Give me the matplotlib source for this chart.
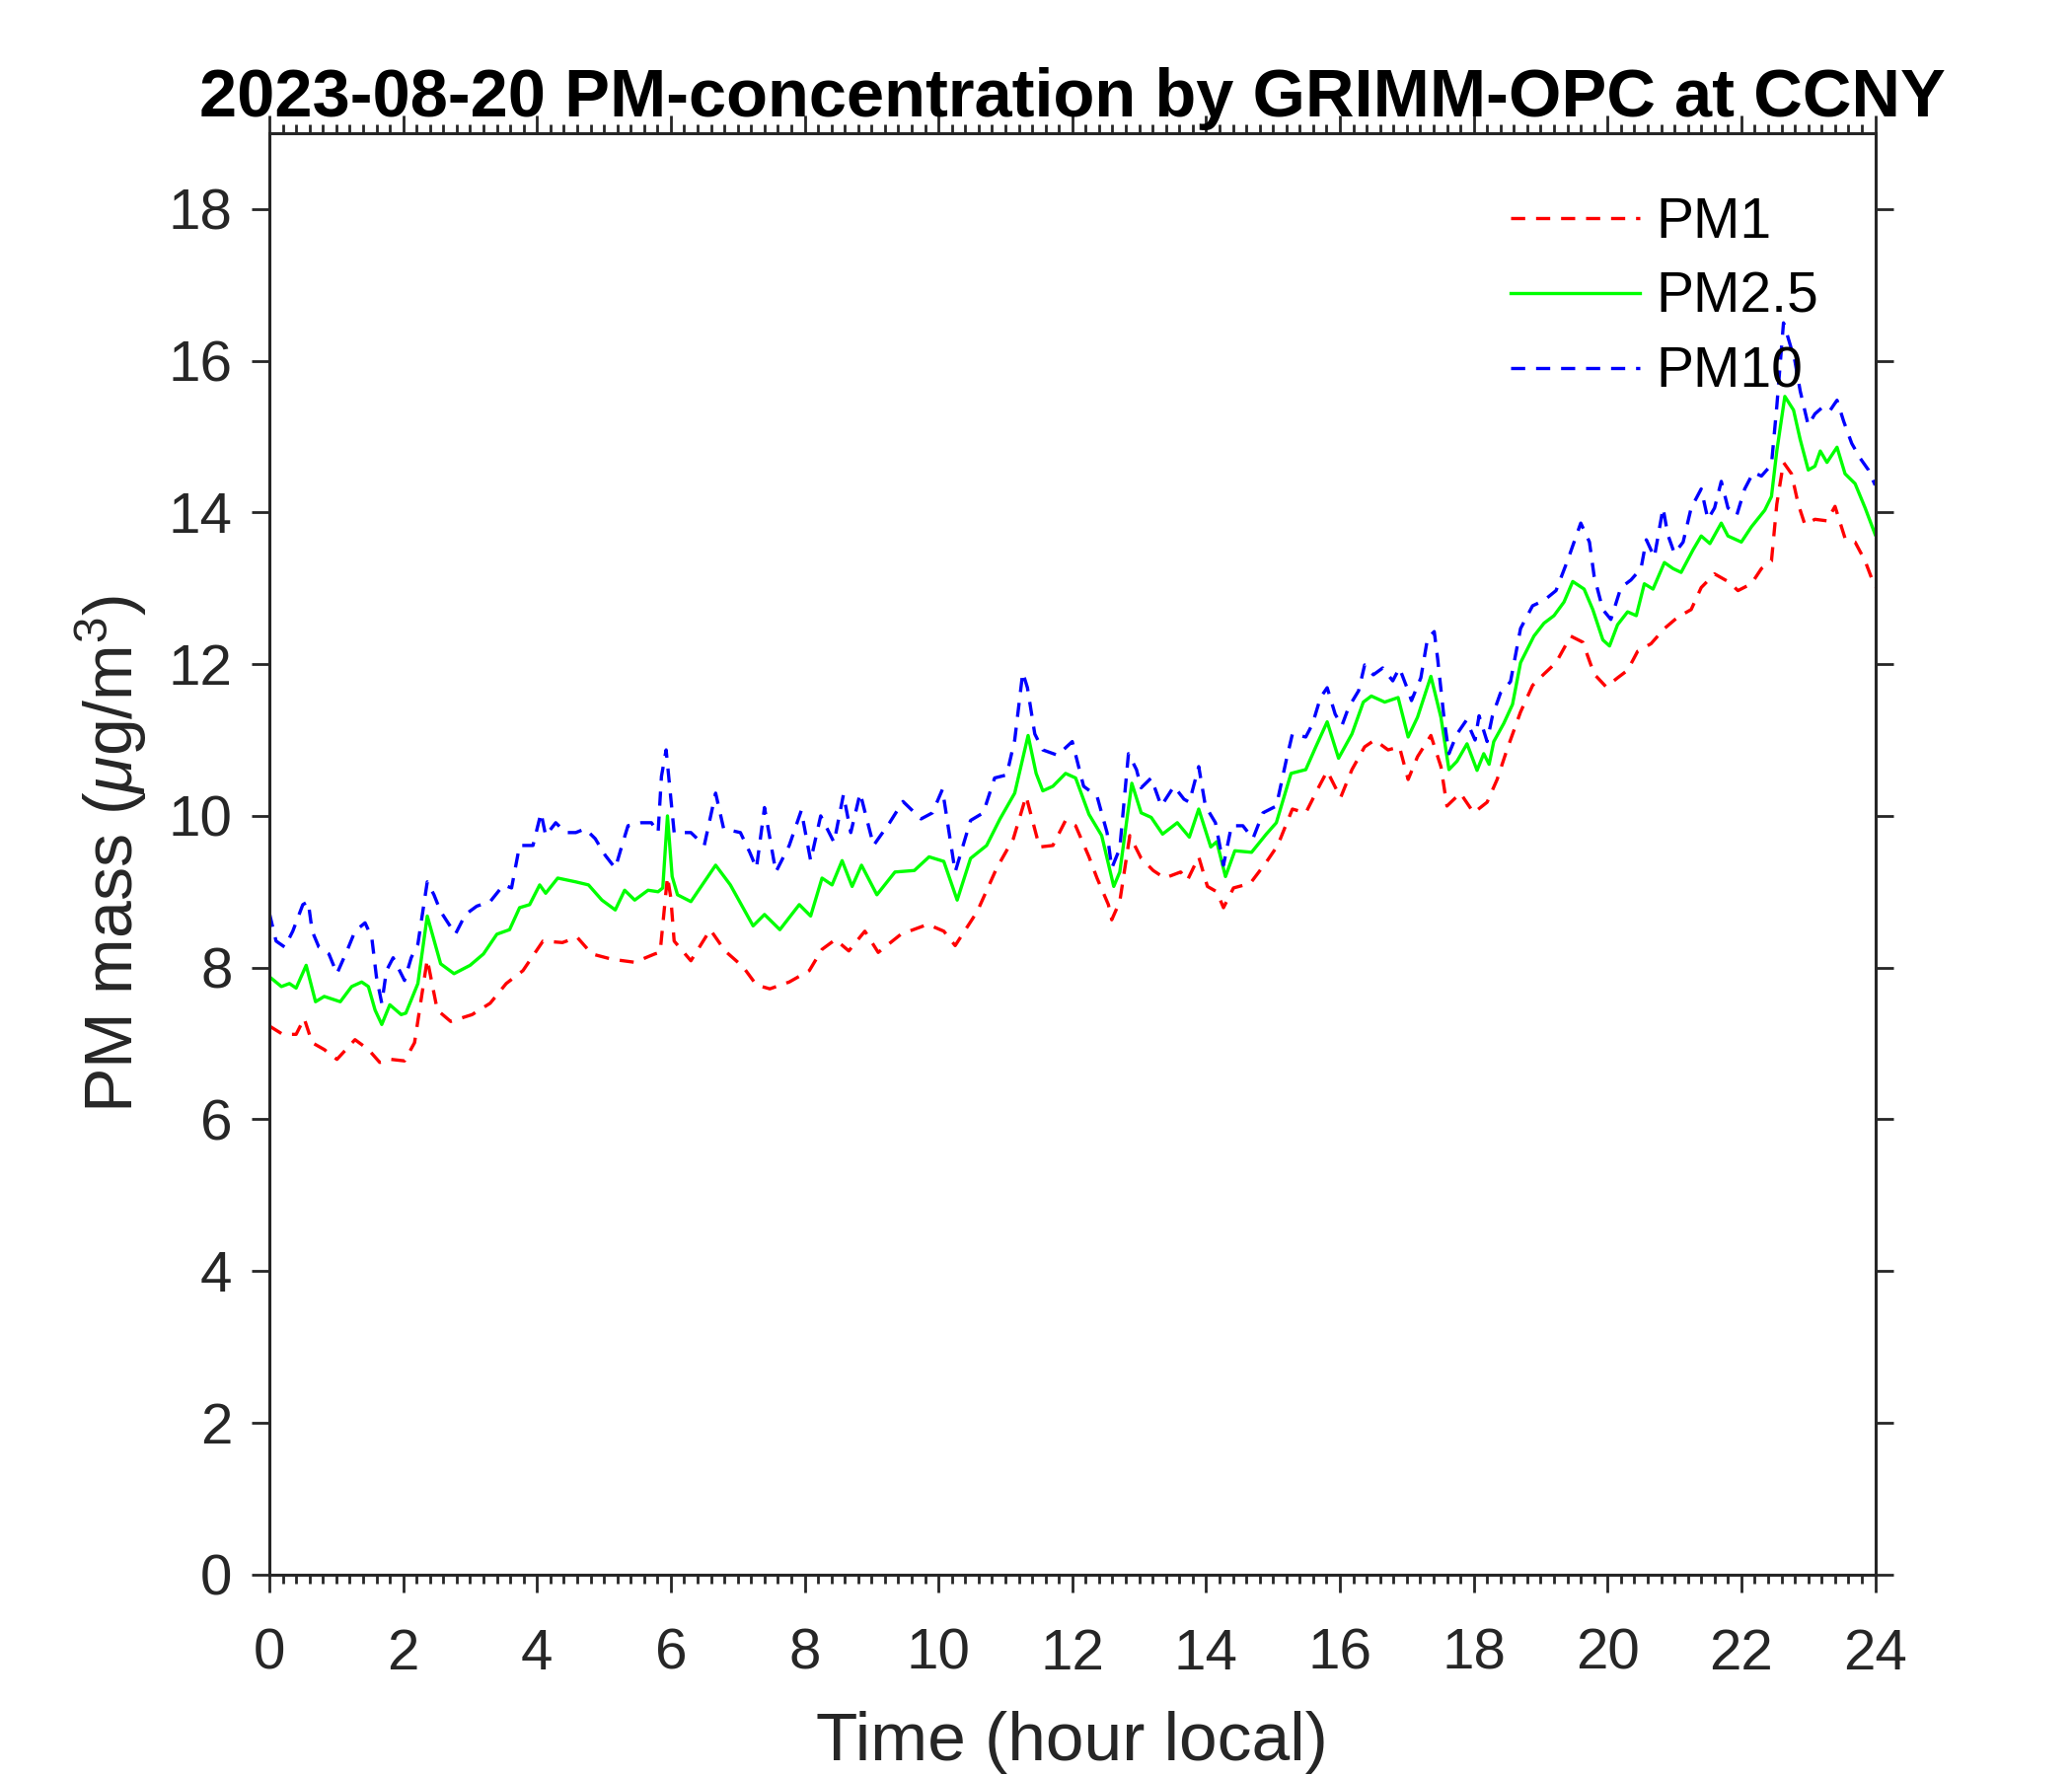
import matplotlib
matplotlib.use('Agg')
import matplotlib.pyplot as plt
from matplotlib.ticker import MultipleLocator

plt.rcParams['font.family'] = ['Liberation Sans', 'DejaVu Sans']
plt.rcParams['mathtext.fontset'] = 'custom'
plt.rcParams['mathtext.rm'] = 'Liberation Sans'
plt.rcParams['mathtext.it'] = 'Liberation Sans:italic'

# PM1
t_pm1 = [0.0, 0.2, 0.4, 0.52, 0.64, 0.82, 1.01, 1.28, 1.48, 1.65, 1.82, 2.02, 2.17, 2.36, 2.51,
         2.71, 3.03, 3.30, 3.54, 3.79, 4.09, 4.38, 4.60, 4.82, 5.12, 5.46, 5.76, 5.84, 5.95, 6.0,
         6.05, 6.30, 6.59, 6.81, 7.08, 7.28, 7.48, 7.77, 8.07, 8.26, 8.46, 8.66, 8.90, 9.10, 9.44,
         9.84, 10.08, 10.25, 10.58, 10.87, 11.12, 11.31, 11.51, 11.71, 11.90, 12.05, 12.25, 12.37,
         12.54, 12.59, 12.71, 12.86, 13.03, 13.21, 13.38, 13.62, 13.72, 13.89, 14.02, 14.16, 14.26,
         14.41, 14.66, 14.90, 15.07, 15.29, 15.49, 15.69, 15.81, 16.01, 16.18, 16.37, 16.52, 16.72,
         16.89, 17.02, 17.16, 17.36, 17.51, 17.60, 17.80, 18.00, 18.20, 18.35, 18.5, 18.70, 18.88,
         19.05, 19.23, 19.45, 19.63, 19.80, 19.98, 20.15, 20.30, 20.45, 20.65, 20.85, 21.05, 21.25,
         21.40, 21.60, 21.80, 21.95, 22.15, 22.30, 22.45, 22.53, 22.63, 22.75, 22.85, 22.95, 23.10,
         23.28, 23.40, 23.55, 23.70, 23.85, 24.0]
pm1 = [7.23, 7.12, 7.12, 7.33, 7.01, 6.92, 6.79, 7.05, 6.92, 6.75, 6.79, 6.77, 7.01, 8.11, 7.44,
       7.29, 7.38, 7.53, 7.79, 7.96, 8.35, 8.33, 8.40, 8.18, 8.11, 8.07, 8.18, 8.20, 9.20, 8.92,
       8.35, 8.09, 8.50, 8.22, 8.01, 7.77, 7.72, 7.81, 7.96, 8.24, 8.37, 8.22, 8.48, 8.20, 8.44,
       8.57, 8.48, 8.29, 8.74, 9.31, 9.70, 10.26, 9.59, 9.61, 9.94, 9.87, 9.46, 9.18,
       8.83, 8.63, 8.87, 9.74, 9.44, 9.28, 9.18, 9.26, 9.15, 9.46, 9.07, 9.00, 8.79,
       9.05, 9.11, 9.39, 9.61, 10.09, 10.04, 10.39, 10.59, 10.24, 10.61, 10.91, 11.00, 10.87,
       10.91, 10.48, 10.78, 11.06, 10.65, 10.13, 10.30, 10.04, 10.18, 10.48, 10.88, 11.37, 11.72,
       11.87, 12.02, 12.37, 12.29, 11.87, 11.70, 11.82, 11.92, 12.17, 12.27, 12.47, 12.62, 12.72,
       13.01, 13.19, 13.09, 12.97, 13.06, 13.26, 13.36, 14.11, 14.66, 14.51, 14.11, 13.84, 13.91,
       13.89, 14.08, 13.66, 13.61, 13.36, 13.01]

# PM2.5
t_pm25 = [0.0, 0.18, 0.30, 0.40, 0.55, 0.69, 0.82, 1.06, 1.23, 1.38, 1.48, 1.58, 1.68, 1.80, 1.97,
          2.04, 2.22, 2.36, 2.56, 2.76, 3.00, 3.20, 3.40, 3.59, 3.74, 3.89, 4.04, 4.13, 4.31, 4.58,
          4.77, 4.97, 5.17, 5.31, 5.46, 5.66, 5.81, 5.88, 5.95, 6.02, 6.10, 6.30, 6.67, 6.89, 7.23,
          7.40, 7.63, 7.92, 8.09, 8.26, 8.41, 8.56, 8.71, 8.85, 9.08, 9.35, 9.64, 9.86, 10.08, 10.28,
          10.48, 10.72, 10.92, 11.14, 11.34, 11.46, 11.56, 11.71, 11.90, 12.05, 12.25, 12.44, 12.62,
          12.71, 12.89, 13.03, 13.18, 13.35, 13.57, 13.75, 13.89, 14.07, 14.16, 14.29, 14.43, 14.68,
          14.90, 15.05, 15.27, 15.49, 15.64, 15.81, 15.98, 16.18, 16.35, 16.47, 16.67, 16.87, 17.02,
          17.16, 17.36, 17.51, 17.63, 17.75, 17.90, 18.05, 18.15, 18.23, 18.30, 18.45, 18.58, 18.70,
          18.90, 19.05, 19.20, 19.35, 19.48, 19.65, 19.78, 19.93, 20.03, 20.15, 20.30, 20.43, 20.55,
          20.68, 20.85, 20.98, 21.10, 21.28, 21.40, 21.53, 21.70, 21.80, 22.00, 22.15, 22.35, 22.45,
          22.53, 22.65, 22.78, 22.88, 23.00, 23.10, 23.18, 23.28, 23.43, 23.55, 23.70, 23.85, 24.0]
pm25 = [7.88, 7.75, 7.79, 7.73, 8.03, 7.55, 7.62, 7.55, 7.75, 7.81, 7.75, 7.44, 7.25, 7.51, 7.38,
        7.40, 7.79, 8.68, 8.05, 7.92, 8.03, 8.18, 8.44, 8.50, 8.79, 8.83, 9.09, 8.98, 9.18, 9.13,
        9.09, 8.89, 8.76, 9.02, 8.89, 9.02, 9.00, 9.05, 10.0, 9.20, 8.96, 8.87, 9.35, 9.09, 8.55,
        8.70, 8.50, 8.83, 8.68, 9.18, 9.09, 9.41, 9.07, 9.35, 8.96, 9.26, 9.28, 9.46, 9.40, 8.89,
        9.44, 9.61, 9.96, 10.30, 11.06, 10.56, 10.33, 10.39, 10.56, 10.50, 10.02, 9.74, 9.07,
        9.26, 10.43, 10.04, 9.98, 9.76, 9.91, 9.72, 10.09, 9.59, 9.66, 9.20, 9.54, 9.52,
        9.76, 9.91, 10.56, 10.61, 10.91, 11.24, 10.76, 11.08, 11.50, 11.58, 11.50, 11.56, 11.04,
        11.30, 11.84, 11.30, 10.61, 10.72, 10.95, 10.60, 10.82, 10.68, 10.98, 11.22, 11.47, 12.02,
        12.37, 12.54, 12.64, 12.82, 13.09, 12.99, 12.72, 12.32, 12.24, 12.52, 12.69, 12.64, 13.06,
        12.99, 13.34, 13.26, 13.21, 13.51, 13.69, 13.59, 13.86, 13.69, 13.61, 13.81, 14.03, 14.21,
        14.81, 15.53, 15.35, 14.96, 14.56, 14.61, 14.81, 14.66, 14.86, 14.51, 14.38, 14.06, 13.71]

# PM10
t_pm10 = [0.0, 0.10, 0.23, 0.35, 0.50, 0.58, 0.64, 0.74, 0.89, 1.01, 1.16, 1.28, 1.43, 1.53, 1.60,
          1.68, 1.75, 1.85, 2.02, 2.12, 2.22, 2.36, 2.46, 2.56, 2.78, 2.93, 3.10, 3.30, 3.50, 3.62,
          3.74, 3.94, 4.06, 4.13, 4.28, 4.43, 4.58, 4.72, 4.87, 5.02, 5.17, 5.27, 5.36, 5.56, 5.71,
          5.81, 5.86, 5.93, 6.05, 6.30, 6.50, 6.67, 6.79, 7.04, 7.18, 7.28, 7.40, 7.57, 7.77, 7.95,
          8.09, 8.24, 8.44, 8.58, 8.69, 8.83, 9.03, 9.27, 9.47, 9.74, 9.91, 10.06, 10.25, 10.48,
          10.67, 10.84, 11.02, 11.14, 11.26, 11.33, 11.44, 11.56, 11.78, 12.0, 12.17, 12.37, 12.52,
          12.59, 12.71, 12.84, 12.96, 13.03, 13.18, 13.33, 13.52, 13.67, 13.75, 13.89, 13.99, 14.14,
          14.26, 14.38, 14.55, 14.70, 14.85, 15.05, 15.20, 15.29, 15.49, 15.59, 15.71, 15.81, 15.93,
          16.03, 16.13, 16.28, 16.37, 16.50, 16.64, 16.79, 16.89, 17.02, 17.07, 17.21, 17.31, 17.41,
          17.46, 17.56, 17.63, 17.75, 17.89, 18.02, 18.08, 18.2, 18.28, 18.4, 18.55, 18.70, 18.88,
          19.05, 19.23, 19.40, 19.60, 19.73, 19.80, 19.93, 20.05, 20.20, 20.35, 20.5, 20.58, 20.70,
          20.83, 20.90, 21.0, 21.13, 21.25, 21.40, 21.50, 21.60, 21.70, 21.80, 21.93, 22.05, 22.18,
          22.30, 22.45, 22.53, 22.63, 22.70, 22.80, 22.88, 23.0, 23.10, 23.23, 23.33, 23.43, 23.53,
          23.65, 23.78, 23.90, 24.0]
pm10 = [8.72, 8.35, 8.27, 8.48, 8.83, 8.87, 8.48, 8.27, 8.18, 7.92, 8.22, 8.48, 8.59, 8.40, 7.88,
        7.53, 7.96, 8.13, 7.83, 8.13, 8.31, 9.13, 8.96, 8.74, 8.44, 8.70, 8.81, 8.87, 9.09, 9.05,
        9.61, 9.61, 10.04, 9.74, 9.91, 9.78, 9.78, 9.83, 9.70, 9.48, 9.31, 9.61, 9.87, 9.91, 9.91,
        9.78, 10.52, 10.87, 9.78, 9.78, 9.61, 10.30, 9.83, 9.78, 9.52, 9.31, 10.11, 9.26, 9.61, 10.07,
        9.41, 10.0, 9.65, 10.28, 9.78, 10.30, 9.61, 9.91, 10.19, 9.96, 10.04, 10.35, 9.26, 9.94,
        10.04, 10.50, 10.54, 11.0, 11.89, 11.69, 11.08, 10.87, 10.80, 10.98, 10.39, 10.26, 9.78,
        9.31, 9.57, 10.82, 10.61, 10.37, 10.50, 10.13, 10.39, 10.22, 10.18, 10.65, 10.13, 9.91,
        9.35, 9.87, 9.87, 9.70, 10.04, 10.13, 10.74, 11.08, 11.04, 11.21, 11.56, 11.69, 11.34,
        11.19, 11.43, 11.65, 11.99, 11.86, 11.95, 11.78, 11.95, 11.65, 11.52, 11.82, 12.34, 12.43,
        12.08, 11.26, 10.82, 11.08, 11.26, 11.0, 11.32, 10.98, 11.32, 11.62, 11.77, 12.47, 12.77,
        12.84, 12.97, 13.36, 13.86, 13.61, 13.16, 12.72, 12.59, 13.01, 13.11, 13.26, 13.64, 13.41,
        14.06, 13.71, 13.46, 13.61, 14.06, 14.31, 13.91, 14.06, 14.41, 14.06, 13.96, 14.31, 14.53,
        14.48, 14.63, 15.40, 16.50, 16.30, 16.0, 15.60, 15.15, 15.30, 15.40, 15.35, 15.48, 15.20,
        14.91, 14.71, 14.56, 14.36]

series_labels = ['PM1', 'PM2.5', 'PM10']
x_ticks = list(range(0, 25, 2))
y_ticks = list(range(0, 19, 2))

fig = plt.figure(figsize=(10.5, 9), dpi=200)
ax = fig.add_axes([0.13, 0.1135, 0.775, 0.8115])

ax.plot(t_pm1, pm1, color=(1, 0, 0), linestyle=(0, (4.3, 3.3)), linewidth=1.2, label=series_labels[0])
ax.plot(t_pm25, pm25, color=(0, 1, 0), linestyle='-', linewidth=1.2, label=series_labels[1])
ax.plot(t_pm10, pm10, color=(0, 0, 1), linestyle=(0, (4.3, 3.3)), linewidth=1.2, label=series_labels[2])

ax.set_xlim(0, 24)
ax.set_ylim(0, 19)
ax.set_xticks(x_ticks)
ax.set_yticks(y_ticks)
ax.xaxis.set_minor_locator(MultipleLocator(0.2))

dark = '#262626'
for sp in ax.spines.values():
    sp.set_color(dark)
    sp.set_linewidth(1.1)
ax.tick_params(axis='both', which='major', direction='out', length=6.5, width=1.0,
               colors=dark, labelsize=21, top=True, right=True)
ax.tick_params(axis='both', which='minor', direction='out', length=3.2, width=1.0,
               colors=dark, top=True)
ax.tick_params(axis='x', which='major', pad=13)
ax.tick_params(axis='y', which='major', pad=7)

ax.set_xlabel('Time (hour local)', fontsize=25, color=dark, labelpad=11)
ax.set_ylabel(r'PM mass ($\mu$g/m$^3$)', fontsize=24.5, color=dark, labelpad=7)
ax.set_title('2023-08-20 PM-concentration by GRIMM-OPC at CCNY', fontsize=24.7,
             fontweight='bold', color='black', pad=6)

leg = ax.legend(loc='upper right', frameon=False, fontsize=20.5, handlelength=2.3,
                handletextpad=0.3, labelspacing=0.38, borderaxespad=0.6,
                bbox_to_anchor=(1.0, 0.995))
for txt in leg.get_texts():
    txt.set_color('black')

fig.savefig('out.png', dpi=200, facecolor='white')
